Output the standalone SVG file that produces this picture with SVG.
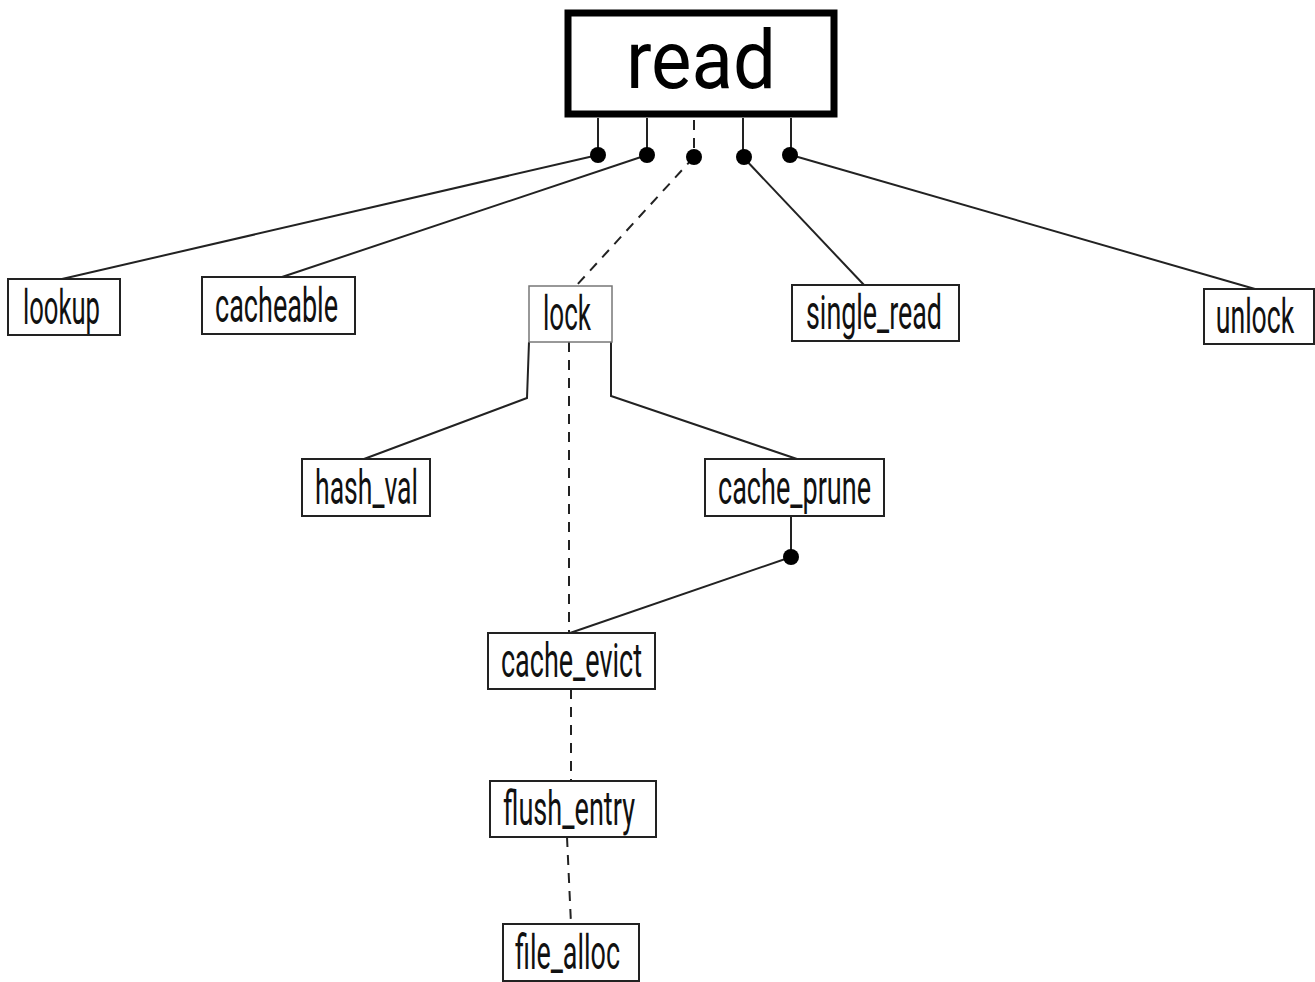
<svg xmlns="http://www.w3.org/2000/svg" width="1315" height="982" viewBox="0 0 1315 982">
<style>
.box{fill:#fff;stroke:#222;stroke-width:2}
.lbl{font-family:Roboto,"Liberation Sans",sans-serif;font-size:48px;fill:#111;text-anchor:middle}
.e{fill:none;stroke:#222;stroke-width:2}
.d{fill:none;stroke:#222;stroke-width:2;stroke-dasharray:10 8}
.dot{fill:#000}
</style>
<rect width="1315" height="982" fill="#fff"/>
<g id="connectors">
<line class="e" x1="598" y1="118" x2="598" y2="155"/>
<line class="e" x1="647" y1="118" x2="647" y2="155"/>
<line class="d" x1="694" y1="120" x2="694" y2="157" stroke-dasharray="12 10"/>
<line class="e" x1="743" y1="118" x2="743" y2="157"/>
<line class="e" x1="791" y1="118" x2="791" y2="155"/>
<line class="e" x1="598" y1="155" x2="62" y2="279"/>
<line class="e" x1="647" y1="155" x2="282" y2="277"/>
<line class="d" x1="694" y1="157" x2="576" y2="286"/>
<line class="e" x1="743" y1="157" x2="864" y2="285"/>
<line class="e" x1="791" y1="155" x2="1255" y2="289"/>
<polyline class="e" points="529,342 527,398 364,459"/>
<polyline class="e" points="611,342 611,396 797,459"/>
<line class="d" x1="569" y1="342" x2="569" y2="633"/>
<line class="e" x1="791" y1="516" x2="791" y2="557"/>
<line class="e" x1="791" y1="557" x2="570" y2="633"/>
<line class="d" x1="571" y1="689" x2="571" y2="781"/>
<line class="d" x1="567" y1="837" x2="571" y2="924"/>
<circle class="dot" cx="598" cy="155" r="8"/>
<circle class="dot" cx="647" cy="155" r="8"/>
<circle class="dot" cx="694" cy="157" r="8"/>
<circle class="dot" cx="744" cy="157" r="8"/>
<circle class="dot" cx="790" cy="155" r="8"/>
<circle class="dot" cx="791" cy="557" r="8"/>
</g>
<g id="read">
<rect x="568" y="13" width="266" height="101" fill="#fff" stroke="#000" stroke-width="7"/>
<text x="701" y="88" font-family="Roboto,'Liberation Sans',sans-serif" font-size="82" fill="#000" text-anchor="middle" textLength="150" lengthAdjust="spacingAndGlyphs">read</text>
</g>
<g id="lookup">
<rect class="box" x="8" y="279" width="112" height="56"/>
<text class="lbl" x="61.5" y="324" textLength="77" lengthAdjust="spacingAndGlyphs">lookup</text>
</g>
<g id="cacheable">
<rect class="box" x="202" y="277" width="153" height="57"/>
<text class="lbl" x="276.5" y="322" textLength="123" lengthAdjust="spacingAndGlyphs">cacheable</text>
</g>
<g id="lock">
<rect x="529" y="286" width="83" height="56" fill="#fff" stroke="#777" stroke-width="1.5"/>
<text class="lbl" x="567" y="330" textLength="48" lengthAdjust="spacingAndGlyphs">lock</text>
</g>
<g id="single_read">
<rect class="box" x="792" y="285" width="167" height="56"/>
<text class="lbl" x="874" y="329" textLength="136" lengthAdjust="spacingAndGlyphs">single_read</text>
</g>
<g id="unlock">
<rect class="box" x="1204" y="289" width="110" height="55"/>
<text class="lbl" transform="translate(1255,333) scale(0.555,1)" x="0" y="0">unlock</text>
</g>
<g id="hash_val">
<rect class="box" x="302" y="459" width="128" height="57"/>
<text class="lbl" x="366.5" y="504" textLength="103" lengthAdjust="spacingAndGlyphs">hash_val</text>
</g>
<g id="cache_prune">
<rect class="box" x="705" y="459" width="179" height="57"/>
<text class="lbl" x="794.5" y="504" textLength="153" lengthAdjust="spacingAndGlyphs">cache_prune</text>
</g>
<g id="cache_evict">
<rect class="box" x="488" y="633" width="167" height="56"/>
<text class="lbl" x="571.5" y="677" textLength="141" lengthAdjust="spacingAndGlyphs">cache_evict</text>
</g>
<g id="flush_entry">
<rect class="box" x="490" y="781" width="166" height="56"/>
<text class="lbl" x="569" y="825" textLength="132" lengthAdjust="spacingAndGlyphs">flush_entry</text>
</g>
<g id="file_alloc">
<rect class="box" x="503" y="924" width="136" height="57"/>
<text class="lbl" x="567.5" y="969" textLength="105" lengthAdjust="spacingAndGlyphs">file_alloc</text>
</g>
</svg>
